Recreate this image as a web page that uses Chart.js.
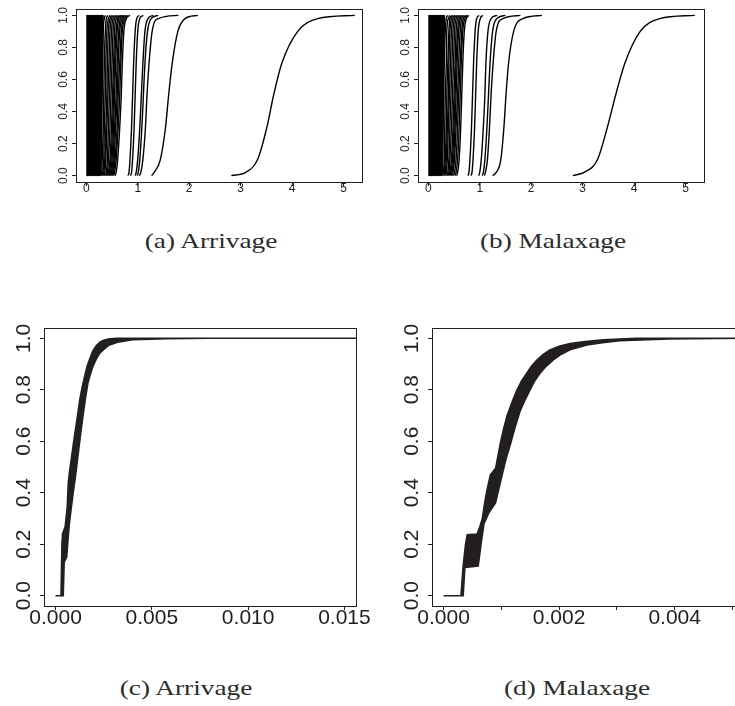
<!DOCTYPE html>
<html>
<head>
<meta charset="utf-8">
<script src="https://cdn.jsdelivr.net/npm/chart.js@4.4.1/dist/chart.umd.min.js"></script>
<style>
  html, body { margin: 0; padding: 0; background: #fff; }
  body { width: 735px; height: 706px; overflow: hidden; position: relative; }
  canvas { position: absolute; }
  .cap {
    position: absolute;
    font-family: 'Liberation Serif', 'Times New Roman', serif;
    font-size: 22px;
    line-height: 22px;
    color: #2b2b2b;
    white-space: nowrap;
    transform: translateX(-50%) scaleX(1.24);
  }
</style>
</head>
<body>
<canvas id="chartA" width="372" height="210" style="left:0;top:0"></canvas>
<canvas id="chartB" width="372" height="210" style="left:342px;top:0"></canvas>
<canvas id="chartC" width="372" height="340" style="left:0;top:300px"></canvas>
<canvas id="chartD" width="372" height="340" style="left:388px;top:300px"></canvas>
<div class="cap" style="left:211px;top:230px">(a) Arrivage</div>
<div class="cap" style="left:553px;top:230px">(b) Malaxage</div>
<div class="cap" style="left:186px;top:677px">(c) Arrivage</div>
<div class="cap" style="left:577px;top:677px">(d) Malaxage</div>
<script>
// niveaux de probabilité communs aux courbes des panneaux (a) et (b)
const levels = [0, 0.02, 0.1, 0.3, 0.5, 0.7, 0.9, 0.98, 1];

// (a) Arrivage : x lu pour chaque niveau
const blockAX = [0, 0.27, 0.29, 0.31, 0.33, 0];
const blockAY = [0, 0, 0.3, 0.7, 1, 1];
const curvesA = [
    [0.27, 0.28, 0.29, 0.30, 0.31, 0.32, 0.33, 0.35, 0.37],
    [0.29, 0.30, 0.31, 0.33, 0.34, 0.35, 0.37, 0.39, 0.42],
    [0.31, 0.32, 0.34, 0.35, 0.37, 0.38, 0.40, 0.43, 0.46],
    [0.33, 0.34, 0.36, 0.38, 0.40, 0.41, 0.43, 0.46, 0.50],
    [0.35, 0.36, 0.38, 0.40, 0.42, 0.44, 0.46, 0.49, 0.53],
    [0.37, 0.39, 0.41, 0.43, 0.45, 0.47, 0.49, 0.52, 0.57],
    [0.39, 0.41, 0.43, 0.46, 0.48, 0.50, 0.52, 0.55, 0.60],
    [0.41, 0.43, 0.46, 0.49, 0.51, 0.53, 0.55, 0.58, 0.63],
    [0.43, 0.45, 0.48, 0.51, 0.53, 0.55, 0.58, 0.61, 0.66],
    [0.45, 0.47, 0.50, 0.53, 0.55, 0.57, 0.60, 0.63, 0.69],
    [0.47, 0.49, 0.52, 0.55, 0.58, 0.60, 0.63, 0.66, 0.72],
    [0.49, 0.51, 0.54, 0.57, 0.60, 0.62, 0.65, 0.69, 0.75],
    [0.51, 0.53, 0.56, 0.60, 0.62, 0.65, 0.68, 0.72, 0.78],
    [0.53, 0.55, 0.58, 0.62, 0.65, 0.67, 0.70, 0.75, 0.81],
    [0.56, 0.58, 0.61, 0.65, 0.68, 0.70, 0.73, 0.78, 0.85],
    [0.81, 0.83, 0.85, 0.88, 0.90, 0.92, 0.95, 0.98, 1.03],
    [0.86, 0.88, 0.90, 0.93, 0.95, 0.97, 1.00, 1.04, 1.11],
    [0.95, 0.97, 1.00, 1.04, 1.07, 1.10, 1.14, 1.20, 1.30],
    [0.99, 1.01, 1.04, 1.08, 1.11, 1.14, 1.19, 1.26, 1.40],
    [1.03, 1.06, 1.10, 1.15, 1.18, 1.22, 1.28, 1.40, 1.79],
    [1.27, 1.32, 1.44, 1.54, 1.60, 1.67, 1.78, 1.92, 2.17],
    [2.82, 3.10, 3.33, 3.51, 3.64, 3.80, 4.11, 4.50, 5.22]
];

// (b) Malaxage
const blockBX = [0, 0.26, 0.28, 0.30, 0.32, 0];
const blockBY = [0, 0, 0.3, 0.7, 1, 1];
const curvesB = [
    [0.26, 0.27, 0.28, 0.29, 0.30, 0.31, 0.33, 0.35, 0.38],
    [0.28, 0.29, 0.31, 0.32, 0.33, 0.35, 0.36, 0.39, 0.42],
    [0.30, 0.31, 0.33, 0.35, 0.36, 0.38, 0.40, 0.42, 0.46],
    [0.32, 0.33, 0.35, 0.37, 0.39, 0.40, 0.42, 0.45, 0.49],
    [0.34, 0.35, 0.37, 0.39, 0.41, 0.43, 0.45, 0.48, 0.52],
    [0.36, 0.38, 0.40, 0.42, 0.44, 0.46, 0.48, 0.51, 0.55],
    [0.38, 0.40, 0.42, 0.45, 0.47, 0.49, 0.51, 0.54, 0.58],
    [0.40, 0.42, 0.45, 0.48, 0.50, 0.52, 0.54, 0.57, 0.61],
    [0.42, 0.44, 0.47, 0.50, 0.52, 0.54, 0.57, 0.60, 0.64],
    [0.44, 0.46, 0.49, 0.52, 0.54, 0.56, 0.59, 0.62, 0.67],
    [0.46, 0.48, 0.51, 0.54, 0.57, 0.59, 0.62, 0.65, 0.70],
    [0.49, 0.51, 0.54, 0.57, 0.59, 0.62, 0.65, 0.68, 0.73],
    [0.52, 0.54, 0.57, 0.60, 0.62, 0.64, 0.67, 0.71, 0.76],
    [0.55, 0.57, 0.60, 0.63, 0.65, 0.67, 0.70, 0.74, 0.79],
    [0.77, 0.79, 0.81, 0.84, 0.86, 0.88, 0.91, 0.94, 0.99],
    [0.83, 0.85, 0.87, 0.90, 0.92, 0.94, 0.97, 1.01, 1.06],
    [0.98, 1.00, 1.03, 1.07, 1.10, 1.12, 1.16, 1.22, 1.34],
    [1.05, 1.07, 1.10, 1.14, 1.17, 1.20, 1.25, 1.33, 1.50],
    [1.09, 1.11, 1.15, 1.19, 1.22, 1.26, 1.32, 1.45, 1.79],
    [1.25, 1.32, 1.41, 1.47, 1.51, 1.56, 1.66, 1.84, 2.21],
    [2.81, 3.03, 3.29, 3.48, 3.64, 3.82, 4.12, 4.50, 5.18]
];

// (c) Arrivage : bords gauche et droit du faisceau de courbes
const bandCUpX = [0, 0.00028, 0.00033, 0.00036, 0.00050, 0.00060, 0.00066, 0.00072, 0.00085, 0.00098, 0.00112, 0.00125, 0.00138, 0.00150, 0.00163, 0.00177, 0.00193, 0.00210, 0.00230, 0.00250, 0.00280, 0.00320, 0.0156];
const bandCUpY = [0, 0, 0.20, 0.24, 0.27, 0.34, 0.44, 0.48, 0.55, 0.62, 0.69, 0.76, 0.81, 0.85, 0.89, 0.92, 0.95, 0.97, 0.985, 0.993, 0.998, 1, 1];
const bandCLoX = [0, 0.00040, 0.00045, 0.00058, 0.00065, 0.00072, 0.00080, 0.00090, 0.00103, 0.00116, 0.00129, 0.00142, 0.00155, 0.00168, 0.00181, 0.00194, 0.00212, 0.00230, 0.00255, 0.00280, 0.00330, 0.00400, 0.00580, 0.00800, 0.0156];
const bandCLoY = [0, 0, 0.13, 0.15, 0.22, 0.28, 0.33, 0.39, 0.46, 0.54, 0.62, 0.695, 0.765, 0.825, 0.86, 0.89, 0.92, 0.942, 0.96, 0.974, 0.986, 0.994, 0.998, 1, 1];

// (d) Malaxage
const bandDUpX = [0, 0.00030, 0.00034, 0.00038, 0.00041, 0.00058, 0.00063, 0.00067, 0.00071, 0.00075, 0.00081, 0.00090, 0.00098, 0.00104, 0.00110, 0.00118, 0.00127, 0.00135, 0.00144, 0.00152, 0.00161, 0.00172, 0.00184, 0.00200, 0.00219, 0.00245, 0.00276, 0.00334, 0.0053];
const bandDUpY = [0, 0, 0.12, 0.20, 0.237, 0.24, 0.27, 0.30, 0.36, 0.41, 0.47, 0.495, 0.59, 0.65, 0.70, 0.75, 0.80, 0.835, 0.865, 0.892, 0.915, 0.937, 0.955, 0.969, 0.98, 0.988, 0.994, 1, 1];
const bandDLoX = [0, 0.00034, 0.00037, 0.00060, 0.00065, 0.00070, 0.00078, 0.00090, 0.00101, 0.00108, 0.00116, 0.00124, 0.00133, 0.00141, 0.00150, 0.00158, 0.00167, 0.00178, 0.00190, 0.00204, 0.00219, 0.00248, 0.00275, 0.00305, 0.00390, 0.0053];
const bandDLoY = [0, 0, 0.11, 0.115, 0.20, 0.28, 0.32, 0.36, 0.465, 0.53, 0.59, 0.655, 0.72, 0.76, 0.80, 0.835, 0.864, 0.892, 0.916, 0.938, 0.955, 0.974, 0.983, 0.99, 0.997, 1];

// graduations
const yTicks = [0, 0.2, 0.4, 0.6, 0.8, 1.0];
const yLabels = ['0.0', '0.2', '0.4', '0.6', '0.8', '1.0'];
const xTicksAB = [0, 1, 2, 3, 4, 5];
const xLabelsAB = ['0', '1', '2', '3', '4', '5'];
const xTicksC = [0, 0.005, 0.010, 0.015];
const xLabelsC = ['0.000', '0.005', '0.010', '0.015'];
const xTicksD = [0, 0.001, 0.002, 0.003, 0.004, 0.005];
const xLabelsD = ['0.000', '', '0.002', '', '0.004', ''];

const INK = '#231f20';

function pts(xs, ys) {
    return xs.map((x, i) => ({x: x, y: ys[i]}));
}

function shape(upX, upY, loX, loY) {
    // contour fermé : bord gauche puis bord droit à rebours
    return pts(upX, upY).concat(pts(loX, loY).reverse());
}

// cadre + étiquettes verticales tournées comme dans R
const rFrame = {
    id: 'rFrame',
    afterDraw(chart, args, opts) {
        const {ctx, chartArea: a} = chart;
        const y = chart.scales.y;
        ctx.save();
        ctx.strokeStyle = opts.color;
        ctx.lineWidth = 1;
        ctx.strokeRect(Math.round(a.left) + 0.5, Math.round(a.top) + 0.5,
            Math.round(a.right - a.left), Math.round(a.bottom - a.top));
        ctx.fillStyle = opts.color;
        ctx.font = opts.font;
        ctx.textAlign = 'center';
        ctx.textBaseline = 'middle';
        yTicks.forEach((v, i) => {
            ctx.save();
            ctx.translate(a.left - opts.gap, y.getPixelForValue(v));
            ctx.rotate(-Math.PI / 2);
            ctx.fillText(yLabels[i], 0, 0);
            ctx.restore();
        });
        ctx.restore();
    }
};

function makeChart(id, datasets, p) {
    new Chart(document.getElementById(id), {
        type: 'line',
        data: {datasets: datasets},
        plugins: [rFrame],
        options: {
            responsive: false,
            animation: false,
            events: [],
            layout: {padding: {top: p.top, right: p.right, left: 0, bottom: 0}},
            plugins: {
                legend: {display: false},
                tooltip: {enabled: false},
                rFrame: {color: INK, font: p.fontSize + 'px "Liberation Sans", Arial, sans-serif', gap: p.yGap}
            },
            scales: {
                x: {
                    type: 'linear',
                    min: p.xMin,
                    max: p.xMax,
                    afterBuildTicks: s => { s.ticks = p.xTicks.map(v => ({value: v})); },
                    afterFit: s => { s.height = p.xHeight; },
                    grid: {drawOnChartArea: false, tickLength: 4, color: INK},
                    border: {display: false},
                    ticks: {
                        autoSkip: false, maxRotation: 0, padding: p.xPad,
                        color: INK,
                        font: {family: '"Liberation Sans", Arial, sans-serif', size: p.fontSize, lineHeight: 1},
                        callback: (v, i) => p.xLabels[i]
                    }
                },
                y: {
                    type: 'linear',
                    min: -0.04,
                    max: 1.04,
                    afterBuildTicks: s => { s.ticks = yTicks.map(v => ({value: v})); },
                    afterFit: s => { s.width = p.yWidth; },
                    grid: {drawOnChartArea: false, tickLength: 4, color: INK},
                    border: {display: false},
                    ticks: {display: false}
                }
            }
        }
    });
}

function curveSets(block, curves) {
    const sets = [{
        data: block,
        borderColor: '#000', backgroundColor: '#000', borderWidth: 1,
        pointRadius: 0, fill: 'shape', tension: 0
    }];
    curves.forEach(c => sets.push({
        data: pts(c, levels),
        borderColor: '#000', borderWidth: 1.4,
        pointRadius: 0, fill: false, cubicInterpolationMode: 'monotone'
    }));
    return sets;
}

function bandSets(poly) {
    return [{
        data: poly,
        borderColor: INK, backgroundColor: INK, borderWidth: 1.5,
        pointRadius: 0, fill: 'shape', tension: 0
    }];
}

const smallAxes = {top: 9, right: 10, yWidth: 76, xHeight: 28, xPad: -3, fontSize: 12, yGap: 12,
    xMin: -0.2, xMax: 5.36, xTicks: xTicksAB, xLabels: xLabelsAB};

makeChart('chartA', curveSets(pts(blockAX, blockAY), curvesA), smallAxes);
makeChart('chartB', curveSets(pts(blockBX, blockBY), curvesB), smallAxes);

makeChart('chartC', bandSets(shape(bandCUpX, bandCUpY, bandCLoX, bandCLoY)),
    {top: 28, right: 16, yWidth: 44, xHeight: 34, xPad: -2, fontSize: 21, yGap: 20,
     xMin: -0.0006, xMax: 0.0156, xTicks: xTicksC, xLabels: xLabelsC});

makeChart('chartD', bandSets(shape(bandDUpX, bandDUpY, bandDLoX, bandDLoY)),
    {top: 28, right: 16, yWidth: 44, xHeight: 34, xPad: -2, fontSize: 21, yGap: 20,
     xMin: -0.0002, xMax: 0.0052, xTicks: xTicksD, xLabels: xLabelsD});
</script>
</body>
</html>
